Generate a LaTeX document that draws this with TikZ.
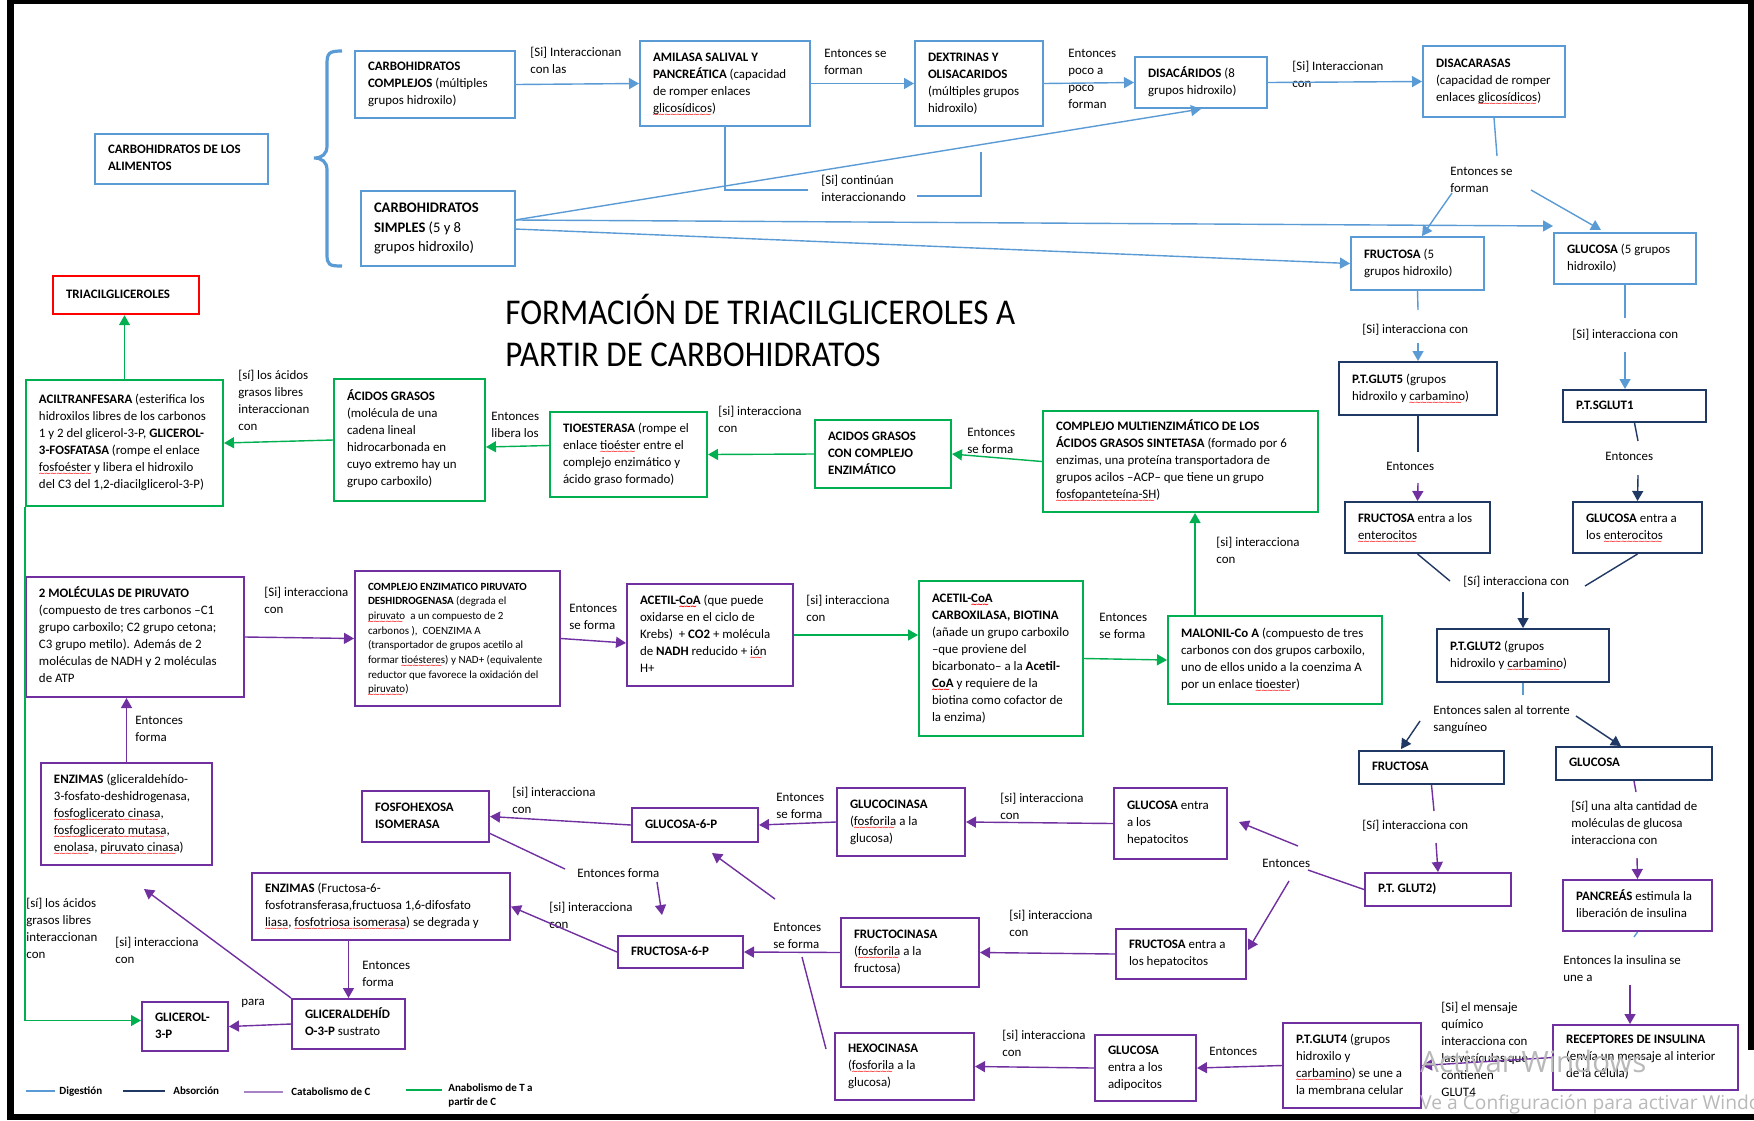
\documentclass[tikz,border=0pt]{standalone}
\usepackage{fontspec}
\setmainfont{Carlito}
\newfontfamily\wmfont{Open Sans}
\newfontfamily\wavefont{DejaVu Sans}
\usepackage{graphicx}
\usetikzlibrary{arrows.meta,calc}

% red spell-check squiggle under a word
\newsavebox\sqbox
\newcommand\sq[1]{\sbox\sqbox{#1}\rlap{\raisebox{-2.4pt}[0pt][0pt]{\color{red}\wavefont\fontsize{4.2}{4.2}\selectfont\hbox to \wd\sqbox{\leaders\hbox to 2.9pt{\hss ∼\hss}\hfill}}}\usebox\sqbox}

\newcommand\bodyfont{\fontsize{6.45}{8.5}\selectfont}
\newcommand\bigfont{\fontsize{7.3}{9.75}\selectfont}
\newcommand\smallfont{\fontsize{5.5}{7.35}\selectfont}
\newcommand\legfont{\fontsize{5.5}{7}\selectfont\bfseries}
\newcommand\titlefont{\fontsize{16.5}{19.1}\selectfont}

\definecolor{digc}{RGB}{91,155,213}
\definecolor{absc}{RGB}{32,56,100}
\definecolor{catc}{RGB}{112,48,160}
\definecolor{anac}{RGB}{0,176,80}

\tikzset{
  boxbase/.style={inner sep=0pt, fill=white, line width=1pt, font=\bodyfont},
  digbox/.style={boxbase, draw=digc},
  absbox/.style={boxbase, draw=absc},
  catbox/.style={boxbase, draw=catc},
  anabox/.style={boxbase, draw=anac},
  redbox/.style={boxbase, draw=red, line width=1.2pt},
  lbl/.style={inner sep=0pt, font=\bodyfont},
  leg/.style={inner sep=0pt, font=\legfont},
  digline/.style={draw=digc, line width=0.7pt},
  absline/.style={draw=absc, line width=0.7pt},
  catline/.style={draw=catc, line width=0.7pt},
  analine/.style={draw=anac, line width=0.7pt},
  arr/.style={-{Triangle[length=5pt,width=5.5pt]}},
  wm/.style={inner sep=0pt, text=gray!55}
}

% box: style, name, x1, y1, x2, y2, lines
\newcommand\bx[7]{\node[#1,minimum width={(#5-#3)*0.5pt},minimum height={(#6-#4)*0.5pt}] (#2) at ({(#3+#5)/2},{(#4+#6)/2}) {\makebox[\dimexpr(#5pt-#3pt)/2-13pt\relax][l]{\begin{tabular}{@{}l@{}}#7\end{tabular}}};}
% free label: name, x, first baseline, lines
\newcommand\lb[4]{\node[lbl, anchor=base west] (#1) at (#2,#3) {\begin{tabular}[t]{@{}l@{}}#4\end{tabular}};}

\begin{document}
\begin{tikzpicture}[x=0.5pt, y=-0.5pt]
\useasboundingbox (0,0) rectangle (1754,1120);
\fill[white] (0,0) rectangle (1754,1120);
% frame
\fill[black] (7,0) rectangle (1754,4);
\fill[black] (7,0) rectangle (14,1120);
\fill[black] (7,1114) rectangle (1754,1120);
\fill[black] (1748,0) rectangle (1754,1050);

% title
\node[inner sep=0pt, anchor=base west, font=\titlefont] (title) at (505,324)
  {\scalebox{1}[1.1]{\begin{tabular}[t]{@{}l@{}}FORMACIÓN DE TRIACILGLICEROLES A\\ PARTIR DE CARBOHIDRATOS\end{tabular}}};

% ---------- digestion ----------
\bx{digbox}{alim}{95}{134}{268}{184}{\textbf{CARBOHIDRATOS DE LOS}\\ \textbf{ALIMENTOS}}
\bx{digbox}{comp}{355}{51}{515}{118}{\textbf{CARBOHIDRATOS}\\ \textbf{COMPLEJOS} (múltiples\\ grupos hidroxilo)}
\bx{digbox}{amil}{640}{41}{810}{126}{\textbf{AMILASA SALIVAL Y}\\ \textbf{PANCREÁTICA} (capacidad\\ de romper enlaces\\ \sq{glicosídicos})}
\bx{digbox}{dext}{915}{41}{1043}{126}{\textbf{DEXTRINAS Y}\\ \textbf{OLISACARIDOS}\\ (múltiples grupos\\ hidroxilo)}
\bx{digbox}{disac}{1135}{57}{1267}{108}{\textbf{DISACÁRIDOS} (8\\ grupos hidroxilo)}
\bx{digbox}{disaca}{1423}{46}{1565}{117}{\textbf{DISACARASAS}\\ (capacidad de romper\\ enlaces \sq{glicosídicos})}
\bx{digbox,font=\bigfont}{simp}{361}{191}{515}{266}{\textbf{CARBOHIDRATOS}\\ \textbf{SIMPLES} (5 y 8\\ grupos hidroxilo)}
\bx{digbox}{fru1}{1351}{237}{1484}{290}{\textbf{FRUCTOSA} (5\\ grupos hidroxilo)}
\bx{digbox}{glu1}{1554}{233}{1696}{284}{\textbf{GLUCOSA} (5 grupos\\ hidroxilo)}

% ---------- absorption ----------
\bx{absbox}{glut5}{1339}{362}{1497}{415}{\textbf{P.T.GLUT5} (grupos\\ hidroxilo y \sq{carbamino})}
\bx{absbox}{sglut1}{1563}{390}{1706}{422}{\textbf{P.T.SGLUT1}}
\bx{absbox}{fruent}{1345}{502}{1490}{553}{\textbf{FRUCTOSA} entra a los\\ \sq{enterocitos}}
\bx{absbox}{gluent}{1573}{502}{1702}{553}{\textbf{GLUCOSA} entra a\\ los \sq{enterocitos}}
\bx{absbox}{glut2}{1437}{629}{1609}{682}{\textbf{P.T.GLUT2} (grupos\\ hidroxilo y \sq{carbamino})}
\bx{absbox}{fru2}{1359}{751}{1504}{784}{\textbf{FRUCTOSA}}
\bx{absbox}{glu2}{1556}{747}{1712}{780}{\textbf{GLUCOSA}}

% ---------- carbohydrate catabolism ----------
\bx{catbox}{ptg2}{1365}{873}{1511}{906}{\textbf{P.T. GLUT2)}}
\bx{catbox}{panc}{1563}{880}{1712}{931}{\textbf{PANCREÁS} estimula la\\ liberación de insulina}
\bx{catbox}{recep}{1553}{1025}{1738}{1090}{\textbf{RECEPTORES DE INSULINA}\\ (envía un mensaje al interior\\ de la célula)}
\bx{catbox}{glut4}{1283}{1023}{1421}{1108}{\textbf{P.T.GLUT4} (grupos\\ hidroxilo y\\ \sq{carbamino}) se une a\\ la membrana celular}
\bx{catbox}{adip}{1095}{1035}{1196}{1101}{\textbf{GLUCOSA}\\ entra a los\\ adipocitos}
\bx{catbox}{hexo}{835}{1033}{974}{1100}{\textbf{HEXOCINASA}\\ (\sq{fosforila} a la\\ glucosa)}
\bx{catbox}{fruhep}{1116}{929}{1246}{979}{\textbf{FRUCTOSA} entra a\\ los hepatocitos}
\bx{catbox}{gluhep}{1114}{788}{1227}{859}{\textbf{GLUCOSA} entra\\ a los\\ hepatocitos}
\bx{catbox}{gcin}{837}{788}{965}{856}{\textbf{GLUCOCINASA}\\ (\sq{fosforila} a la\\ glucosa)}
\bx{catbox}{fcin}{841}{918}{979}{987}{\textbf{FRUCTOCINASA}\\ (\sq{fosforila} a la\\ fructosa)}
\bx{catbox}{g6p}{632}{808}{758}{842}{\textbf{GLUCOSA-6-P}}
\bx{catbox}{f6p}{618}{936}{743}{968}{\textbf{FRUCTOSA-6-P}}
\bx{catbox}{fph}{362}{791}{489}{842}{\textbf{FOSFOHEXOSA}\\ \textbf{ISOMERASA}}
\bx{catbox}{enzf}{252}{873}{510}{940}{\textbf{ENZIMAS} (Fructosa-6-\\ fosfotransferasa,fructuosa 1,6-difosfato\\ \sq{liasa}, \sq{fosfotriosa isomerasa}) se degrada y}
\bx{catbox}{glald}{292}{999}{405}{1049}{\textbf{GLICERALDEHÍD}\\ \textbf{O-3-P} sustrato}
\bx{catbox}{glic}{142}{1002}{228}{1051}{\textbf{GLICEROL-}\\ \textbf{3-P}}
\bx{catbox}{enz}{41}{763}{212}{865}{\textbf{ENZIMAS} (gliceraldehído-\\ 3-fosfato-deshidrogenasa,\\ \sq{fosfoglicerato cinasa},\\ \sq{fosfoglicerato mutasa},\\ \sq{enolasa}, \sq{piruvato cinasa})}
\bx{catbox}{piruv}{26}{577}{244}{697}{\textbf{2 MOLÉCULAS DE PIRUVATO}\\ (compuesto de tres carbonos –C1\\ grupo carboxilo; C2 grupo cetona;\\ C3 grupo metilo). Además de 2\\ moléculas de NADH y 2 moléculas\\ de ATP}
\bx{catbox,font=\smallfont}{cpir}{355}{571}{560}{706}{\textbf{COMPLEJO ENZIMATICO PIRUVATO}\\ \textbf{DESHIDROGENASA} (degrada el\\ \sq{piruvato}\ \ a un compuesto de 2\\ carbonos ),\ \ COENZIMA A\\ (transportador de grupos acetilo al\\ formar \sq{tioésteres}) y NAD+ (equivalente\\ reductor que favorece la oxidación del\\ \sq{piruvato})}
\bx{catbox}{acet}{627}{584}{793}{686}{\textbf{ACETIL-\sq{CoA}} (que puede\\ oxidarse en el ciclo de\\ Krebs)\ \ + \textbf{CO2} + molécula\\ de \textbf{NADH} reducido + \sq{ión}\\ H+}

% ---------- fat synthesis ----------
\bx{anabox}{acil}{26}{380}{223}{506}{\textbf{ACILTRANFESARA} (esterifica los\\ hidroxilos libres de los carbonos\\ 1 y 2 del glicerol-3-P, \textbf{GLICEROL-}\\ \textbf{3-FOSFATASA} (rompe el enlace\\ \sq{fosfoéster} y libera el hidroxilo\\ del C3 del 1,2-diacilglicerol-3-P)}
\bx{anabox}{acg}{334}{379}{485}{501}{\textbf{ÁCIDOS GRASOS}\\ (molécula de una\\ cadena lineal\\ hidrocarbonada en\\ cuyo extremo hay un\\ grupo carboxilo)}
\bx{anabox}{tio}{550}{412}{707}{497}{\textbf{TIOESTERASA} (rompe el\\ enlace \sq{tioéster} entre el\\ complejo enzimático y\\ ácido graso formado)}
\bx{anabox}{acgc}{815}{420}{951}{488}{\textbf{ACIDOS GRASOS}\\ \textbf{CON COMPLEJO}\\ \textbf{ENZIMÁTICO}}
\bx{anabox}{cmulti}{1043}{411}{1318}{512}{\textbf{COMPLEJO MULTIENZIMÁTICO DE LOS}\\ \textbf{ÁCIDOS GRASOS SINTETASA} (formado por 6\\ enzimas, una proteína transportadora de\\ grupos acilos –ACP– que tiene un grupo\\ \sq{fosfopanteteína-SH})}
\bx{anabox}{carb}{919}{581}{1083}{736}{\textbf{ACETIL-\sq{CoA}}\\ \textbf{CARBOXILASA, BIOTINA}\\ (añade un grupo carboxilo\\ –que proviene del\\ bicarbonato– a la \textbf{Acetil-}\\ \textbf{\sq{CoA}} y requiere de la\\ biotina como cofactor de\\ la enzima)}
\bx{anabox}{mal}{1168}{616}{1382}{704}{\textbf{MALONIL-Co A} (compuesto de tres\\ carbonos con dos grupos carboxilo,\\ uno de ellos unido a la coenzima A\\ por un enlace \sq{tioester})}
\bx{redbox}{triac}{53}{276}{199}{314}{\textbf{TRIACILGLICEROLES}}

% ---------- connector labels ----------
\lb{l1}{530}{56}{[Si] Interaccionan\\ con las}
\lb{l2}{824}{57}{Entonces se\\ forman}
\lb{l3}{1068}{57}{Entonces\\ poco a\\ poco\\ forman}
\lb{l4}{1292}{70}{[Si] Interaccionan\\ con}
\lb{l5}{821}{184}{[Si] continúan\\ interaccionando}
\lb{l6}{1450}{175}{Entonces se\\ forman}
\lb{l7}{1362}{333}{[Si] interacciona con}
\lb{l8}{1572}{338}{[Si] interacciona con}
\lb{l9}{1386}{470}{Entonces}
\lb{l10}{1605}{460}{Entonces}
\lb{l11}{1463}{585}{[Sí] interacciona con}
\lb{l12}{1433}{714}{Entonces salen al torrente\\ sanguíneo}
\lb{l13}{1362}{829}{[Sí] interacciona con}
\lb{l14}{1571}{810}{[Sí] una alta cantidad de\\ moléculas de glucosa\\ interacciona con}
\lb{l15}{1563}{964}{Entonces la insulina se\\ une a}
\lb{l16}{1441}{1011}{[Si] el mensaje\\ químico\\ interacciona con\\ las vesículas que\\ contienen\\ GLUT4}
\lb{l17}{1209}{1055}{Entonces}
\lb{l18}{1262}{867}{Entonces}
\lb{l19}{1002}{1039}{[si] interacciona\\ con}
\lb{l20}{1009}{919}{[si] interacciona\\ con}
\lb{l21}{1000}{802}{[si] interacciona\\ con}
\lb{l22}{776}{801}{Entonces\\ se forma}
\lb{l23}{773}{931}{Entonces\\ se forma}
\lb{l24}{577}{877}{Entonces forma}
\lb{l25}{549}{911}{[si] interacciona\\ con}
\lb{l26}{512}{796}{[si] interacciona\\ con}
\lb{l27}{362}{969}{Entonces\\ forma}
\lb{l28}{241}{1005}{para}
\lb{l29}{115}{946}{[si] interacciona\\ con}
\lb{l30}{26}{907}{[sí] los ácidos\\ grasos libres\\ interaccionan\\ con}
\lb{l31}{135}{724}{Entonces\\ forma}
\lb{l32}{264}{596}{[Si] interacciona\\ con}
\lb{l33}{569}{612}{Entonces\\ se forma}
\lb{l34}{806}{604}{[si] interacciona\\ con}
\lb{l35}{1099}{621}{Entonces\\ se forma}
\lb{l36}{1216}{546}{[si] interacciona\\ con}
\lb{l37}{967}{436}{Entonces\\ se forma}
\lb{l38}{718}{415}{[si] interacciona\\ con}
\lb{l39}{491}{420}{Entonces\\ libera los}
\lb{l40}{238}{379}{[sí] los ácidos\\ grasos libres\\ interaccionan\\ con}

% ---------- free ends of connectors ----------
\coordinate (k5a) at (725,190); \coordinate (k5b) at (808,190);
\coordinate (k5c) at (917,196); \coordinate (k5d) at (981,196); \coordinate (k5e) at (981,152);
\coordinate (s1) at (515,220); \coordinate (s2) at (515,229);
\coordinate (k7) at (1553,226);
\coordinate (k9) at (1497,156);
\coordinate (k10a) at (1452,193); \coordinate (k10b) at (1422,236);
\coordinate (k11a) at (1531,190); \coordinate (k11b) at (1601,230);
\coordinate (k12) at (1418,310);
\coordinate (k13) at (1418,343);
\coordinate (k14) at (1625,318);
\coordinate (k15) at (1625,352);
\coordinate (k16) at (1418,452);
\coordinate (k17) at (1418,483);
\coordinate (k18) at (1638,441);
\coordinate (k19) at (1638,475);
\coordinate (k20) at (1450,581);
\coordinate (k21) at (1585,586);
\coordinate (k22) at (1523,592);
\coordinate (k23) at (1523,695);
\coordinate (k24a) at (1420,721); \coordinate (k24b) at (1401,749);
\coordinate (k25a) at (1576,716); \coordinate (k25b) at (1621,746);
\coordinate (k26) at (1434,811);
\coordinate (k27) at (1436,843);
\coordinate (k28) at (1636,792);
\coordinate (k29) at (1637,858);
\coordinate (k30) at (1634,937);
\coordinate (k31) at (1630,985);
\coordinate (k35a) at (1308,870); \coordinate (k35b) at (1298,846); \coordinate (k35c) at (1239,822);
\coordinate (k35d) at (1289,881); \coordinate (k35e) at (1248,950);
\coordinate (k39a) at (489,833); \coordinate (k39b) at (565,869);
\coordinate (k39c) at (657,882); \coordinate (k39d) at (662,915);
\coordinate (k42a) at (775,899); \coordinate (k42b) at (712,853);
\coordinate (k43a) at (826,1049); \coordinate (k43b) at (802,957);
\coordinate (k47) at (144,889);
\coordinate (k54) at (1195,616);

% brace
\draw[digline, line width=1.6pt] (342,51) .. controls (329,51) and (327,53) .. (327,64) -- (327,146)
  .. controls (327,154) and (322,158) .. (314,158) .. controls (322,158) and (327,162) .. (327,170)
  -- (327,254) .. controls (327,265) and (329,266) .. (342,266);

% ---------- digestion connectors ----------
\draw[digline,arr] (comp.east) -- (amil.west);
\draw[digline,arr] (amil.east) -- (dext.west);
\draw[digline,arr] (dext.east) -- (disac.west);
\draw[digline,arr] (disac.east) -- (disaca.west);
\draw[digline] (amil.south) -- (k5a) -- (k5b);
\draw[digline] (k5c) -- (k5d) -- (k5e);
\draw[digline,arr] (s1) -- (disac.south);
\draw[digline,arr] (s1) -- (k7);
\draw[digline,arr] (s2) -- (fru1.west);
\draw[digline] (disaca.south) -- (k9);
\draw[digline,arr] (k10a) -- (k10b);
\draw[digline,arr] (k11a) -- (k11b);
\draw[digline] (fru1.south) -- (k12);
\draw[digline,arr] (k13) -- (glut5.north);
\draw[digline] (glu1.south) -- (k14);
\draw[digline,arr] (k15) -- (k15 |- sglut1.north);

% ---------- absorption connectors ----------
\draw[absline] (glut5.south) -- (k16);
\draw[catline,arr] (k17) -- (fruent.north);
\draw[absline] (sglut1.south) -- (k18);
\draw[absline,arr] (k19) -- (gluent.north);
\draw[absline] (fruent.south) -- (k20);
\draw[absline] (gluent.south) -- (k21);
\draw[absline,arr] (k22) -- (glut2.north);
\draw[digline] (glut2.south) -- (k23);
\draw[absline,arr] (k24a) -- (k24b);
\draw[absline,arr] (k25a) -- (k25b);

% ---------- catabolism connectors ----------
\draw[catline] (fru2.south) -- (k26);
\draw[catline,arr] (k27) -- (ptg2.north);
\draw[catline] (glu2.south) -- (k28);
\draw[catline,arr] (k29) -- (panc.north);
\draw[digline] (panc.south) -- (k30);
\draw[catline,arr] (k31) -- (k31 |- recep.north);
\draw[catline,arr] (recep.west) -- (glut4.east);
\draw[catline,arr] (glut4.west) -- (adip.east);
\draw[catline,arr] (adip.west) -- (hexo.east);
\draw[catline] (ptg2.west) -- (k35a);
\draw[catline,arr] (k35b) -- (k35c);
\draw[catline,arr] (k35d) -- (k35e);
\draw[catline,arr] (gluhep.west) -- (gcin.east);
\draw[catline,arr] (gcin.west) -- (g6p.east);
\draw[catline,arr] (g6p.west) -- (fph.east);
\draw[catline] (k39a) -- (k39b);
\draw[catline,arr] (k39c) -- (k39d);
\draw[catline,arr] (f6p.west) -- (enzf.east);
\draw[catline,arr] (fcin.west) -- (f6p.east);
\draw[catline,arr] (k42a) -- (k42b);
\draw[catline] (k43a) -- (k43b);
\draw[catline,arr] (fruhep.west) -- (fcin.east);
\draw[catline,arr] (glald.north |- enzf.south) -- (glald.north);
\draw[catline,arr] (glald.west) -- (glic.east);
\draw[catline,arr] (glald.north west) -- (k47);
\draw[catline,arr] (enz.north) -- (enz.north |- piruv.south);
\draw[catline,arr] (piruv.east) -- (cpir.west);
\draw[catline,arr] (cpir.east) -- ($(acet.west)+(0,8)$);

% ---------- fat synthesis connectors ----------
\draw[analine,arr] (acet.east) -- (acet.east -| carb.west);
\draw[analine,arr] (carb.east) -- (mal.west);
\draw[analine,arr] (k54) -- (k54 |- cmulti.south);
\draw[analine,arr] (cmulti.west) -- (acgc.east);
\draw[analine,arr] (acgc.west) -- (tio.east);
\draw[analine,arr] ($(tio.west)+(0,-9)$) -- ($(acg.east)+(0,7)$);
\draw[analine,arr] (acg.west) -- (acil.east);
\draw[analine,arr] (acil.north) -- (acil.north |- triac.south);
\draw[analine,arr] (acil.south west) |- ($(glic.west)+(0,-6)$);

% ---------- legend ----------
\coordinate (lg1a) at (26,1091); \coordinate (lg1b) at (55,1091);
\coordinate (lg2a) at (123,1091); \coordinate (lg2b) at (165,1091);
\coordinate (lg3a) at (244,1092); \coordinate (lg3b) at (283,1092);
\coordinate (lg4a) at (406,1090); \coordinate (lg4b) at (442,1090);
\draw[digline, line width=1pt] (lg1a) -- (lg1b);
\draw[absline, line width=1pt] (lg2a) -- (lg2b);
\draw[catline, line width=1pt, draw opacity=0.6] (lg3a) -- (lg3b);
\draw[analine, line width=1pt] (lg4a) -- (lg4b);
\node[leg, anchor=base west] (lgt1) at (59,1094) {Digestión};
\node[leg, anchor=base west] (lgt2) at (173,1094) {Absorción};
\node[leg, anchor=base west] (lgt3) at (291,1095) {Catabolismo de C};
\node[leg, anchor=base west] (lgt4) at (448,1091) {\begin{tabular}[t]{@{}l@{}}Anabolismo de T a\\ partir de C\end{tabular}};

% ---------- system watermark ----------
\begin{scope}
\clip (0,0) rectangle (1754,1113);
\node[wm, anchor=base west, font=\wmfont\fontsize{14.7}{17}\selectfont] (wm1) at (1420,1072) {Activar Windows};
\node[wm, anchor=base west, font=\wmfont\fontsize{9.6}{11}\selectfont] (wm2) at (1420,1109) {Ve a Configuración para activar Windows.};
\end{scope}
\end{tikzpicture}
\end{document}
